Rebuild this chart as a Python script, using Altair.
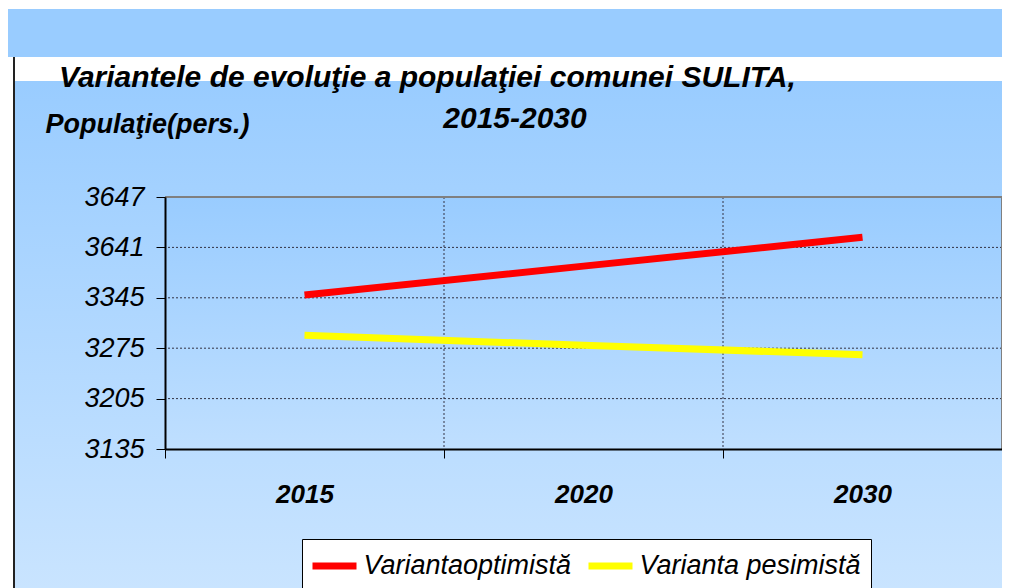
import altair as alt
import pandas as pd

# ---- data ----
years = ["2015", "2020", "2030"]
series_names = ["Variantaoptimistă", "Varianta pesimistă"]
optimist = [3349, 3389, 3429]
pesimist = [3293, 3279, 3266]
series_colors = ["#FF0000", "#FFFF00"]

y_tick_values = [3135, 3205, 3275, 3345, 3415, 3485]
y_tick_labels = ["3135", "3205", "3275", "3345", "3641", "3647"]

title_line1 = "Variantele de evoluţie a populaţiei comunei SULITA,"
title_line2 = "2015-2030"
y_title = "Populaţie(pers.)"

FONT = "Liberation Sans"
W, H = 837, 252
PL, PT = 157, 189
PR = 994 - PL - W

rows = []
for name, vals in zip(series_names, [optimist, pesimist]):
    for yr, v in zip(years, vals):
        rows.append({"year": yr, "value": v, "series": name})
df = pd.DataFrame(rows)

one = pd.DataFrame({"k": [0]})

label_expr = " : ".join(
    [f"datum.value == {v} ? '{l}'" for v, l in zip(y_tick_values, y_tick_labels)]
) + " : datum.label"

x_scale = alt.Scale(domain=years, paddingInner=0, paddingOuter=0)
y_scale = alt.Scale(domain=[y_tick_values[0], y_tick_values[-1]], nice=False, zero=False)

page_bg = alt.Chart(one).mark_rect(
    fill=alt.Gradient(gradient="linear", x1=0, x2=0, y1=0, y2=1,
                      stops=[alt.GradientStop(color="#99CCFF", offset=0),
                             alt.GradientStop(color="#C9E4FF", offset=1)])
).encode(x=alt.value(-152), x2=alt.value(W + PR), y=alt.value(-116), y2=alt.value(391))

band = alt.Chart(one).mark_rect(fill="#99CCFF").encode(
    x=alt.value(-PL), x2=alt.value(W + PR), y=alt.value(-188), y2=alt.value(-140))

vline = alt.Chart(one).mark_rule(color="#222222", strokeWidth=2).encode(
    x=alt.value(-151), y=alt.value(-140), y2=alt.value(391))

plot_bg = alt.Chart(one).mark_rect(
    fill=alt.Gradient(gradient="linear", x1=0, x2=0, y1=0, y2=1,
                      stops=[alt.GradientStop(color="#99CCFF", offset=0),
                             alt.GradientStop(color="#BFDFFF", offset=1)])
).encode(x=alt.value(0), x2=alt.value(W), y=alt.value(0), y2=alt.value(H))

hgrid = alt.Chart(pd.DataFrame({"v": y_tick_values[1:-1]})).mark_rule(
    color="#333344", strokeWidth=1, strokeDash=[2, 2]
).encode(y=alt.Y("v:Q", scale=y_scale))

vgrid = alt.Chart(pd.DataFrame({"year": years[1:]})).mark_rule(
    color="#333344", strokeWidth=1, strokeDash=[2, 2]
).encode(x=alt.X("year:N", scale=x_scale, sort=years, bandPosition=0))

border_top = alt.Chart(one).mark_rule(color="#808080", strokeWidth=2).encode(
    x=alt.value(0), x2=alt.value(W), y=alt.value(0))
border_right = alt.Chart(one).mark_rule(color="#808080", strokeWidth=2).encode(
    x=alt.value(W), y=alt.value(0), y2=alt.value(H))

SYM = 27  # legend symbol nominal size (px); drawn line is ~44px long
lines = alt.Chart(df).mark_line(strokeWidth=7, strokeCap="butt").encode(
    x=alt.X("year:N", scale=x_scale, sort=years,
            axis=alt.Axis(title=None, tickBand="extent", bandPosition=0.5,
                          grid=False, zindex=1,
                          labelFont=FONT, labelFontSize=26, labelFontWeight="bold",
                          labelFontStyle="italic", labelColor="black", labelAngle=0,
                          labelAlign="center",
                          labelBaseline="alphabetic", labelPadding=44,
                          tickColor="black", tickSize=9, tickWidth=1,
                          domainColor="black", domainWidth=2)),
    y=alt.Y("value:Q", scale=y_scale,
            axis=alt.Axis(values=y_tick_values, labelExpr=label_expr, grid=False, zindex=1,
                          labelFont=FONT, labelFontSize=27, labelFontStyle="italic",
                          labelColor="black", labelPadding=12,
                          tickColor="black", tickSize=9, tickWidth=1,
                          domainColor="black", domainWidth=2,
                          title=y_title, titleAngle=0, titleX=-120, titleY=-65,
                          titleAlign="left", titleBaseline="alphabetic",
                          titleFont=FONT, titleFontSize=27, titleFontWeight="bold",
                          titleFontStyle="italic", titleColor="black")),
    color=alt.Color("series:N",
                    scale=alt.Scale(domain=series_names, range=series_colors),
                    legend=alt.Legend(orient="none", legendX=137, legendY=342,
                                      direction="horizontal", title=None,
                                      symbolType="M-1.63,0H1.63", symbolStrokeWidth=7,
                                      symbolSize=SYM * SYM, symbolOffset=5.5,
                                      labelFont=FONT,
                                      labelFontSize=27, labelFontStyle="italic",
                                      labelColor="black", labelOffset=12,
                                      labelLimit=0, columnPadding=2, padding=10,
                                      fillColor="white", strokeColor="black")),
)

t1 = alt.Chart(one).mark_text(
    text=title_line1, font=FONT, fontSize=30, fontWeight="bold", fontStyle="italic",
    align="left", baseline="alphabetic", color="black"
).encode(x=alt.value(-106), y=alt.value(-110))

t2 = alt.Chart(one).mark_text(
    text=title_line2, font=FONT, fontSize=30, fontWeight="bold", fontStyle="italic",
    align="center", baseline="alphabetic", color="black"
).encode(x=alt.value(350), y=alt.value(-69))

chart = alt.layer(
    page_bg, band, vline, plot_bg, hgrid, vgrid, border_top, border_right, lines, t1, t2
).properties(
    width=W, height=H,
    padding={"left": PL, "top": PT, "right": PR, "bottom": 139},
    autosize=alt.AutoSizeParams(type="none"),
).configure_view(stroke=None)

chart.save("out.html", embed_options={"renderer": "svg", "actions": False})
